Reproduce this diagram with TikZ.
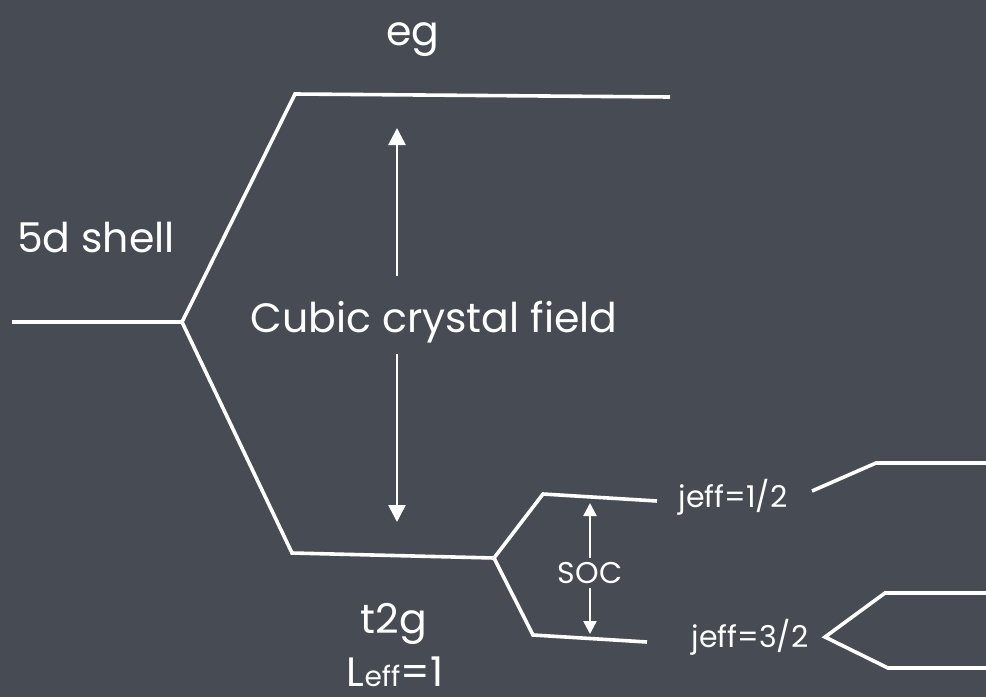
\documentclass[tikz,border=0pt]{standalone}
\usepackage{fontspec}
\setmainfont{Poppins}
\usetikzlibrary{arrows.meta,positioning,calc}

\definecolor{slate}{HTML}{474C54}

\begin{document}
\begin{tikzpicture}[
    x=1pt, y=-1pt,
    level/.style={draw=white, line width=3.6pt, line join=miter},
    arrow/.style={draw=white, line width=2.6pt, -{Triangle[length=17pt,width=17pt]}},
    smallarrow/.style={draw=white, line width=2.4pt, -{Triangle[length=13pt,width=13pt]}},
    label/.style={text=white, font=\fontsize{41}{44}\selectfont, inner sep=0pt},
    small/.style={text=white, font=\fontsize{30}{34}\selectfont, inner sep=0pt}
]

% Background
\fill[slate] (0,0) rectangle (986,697);
\useasboundingbox (0,0) rectangle (986,697);

% Level points
\coordinate (dleft) at (12,322);
\coordinate (dsplit) at (182,322);
\coordinate (egleft) at (295,94);
\coordinate (egright) at (670,97);
\coordinate (tleft) at (292,553);
\coordinate (tsplit) at (494,558);
\coordinate (jhalfleft) at (543,494);
\coordinate (jhalfright) at (657,501);
\coordinate (jthreeleft) at (533,635);
\coordinate (jthreeright) at (647,642);

% Levels
\draw[level] (dleft) -- (dsplit) -- (egleft) -- (egright);
\draw[level] (dsplit) -- (tleft) -- (tsplit);
\draw[level] (tsplit) -- (jhalfleft) -- (jhalfright);
\draw[level] (tsplit) -- (jthreeleft) -- (jthreeright);

% Right side
\coordinate (rhalfstart) at (812,491);
\coordinate (rhalfcorner) at (876,463);
\coordinate (rhalfend) at (986,463);
\coordinate (rthreeapex) at (825,637);
\coordinate (rthreeup) at (885,593);
\coordinate (rthreeupend) at (986,593);
\coordinate (rthreelow) at (888,668);
\coordinate (rthreelowend) at (986,668);
\draw[level] (rhalfstart) -- (rhalfcorner) -- (rhalfend);
\draw[level] (rthreeupend) -- (rthreeup) -- (rthreeapex) -- (rthreelow) -- (rthreelowend);

% Labels
\node[label] (eg) at (413,40) {eg};
\node[label] (shell) at (96,238) {5d shell};
\node[label] (ccf) at (434,322) {Cubic crystal field};
\node[label] (t2g) at (394,624) {t2g};
\node[label] (leff) at (395,672) {L{\fontsize{28}{30}\selectfont eff}=1};
\node[small] (jhalf) at (733,497) {jeff=1/2};
\node[small] (jthree) at (750,637) {jeff=3/2};
\node[small] (soc) at (590,573) {SOC};

% Crystal field arrows
\coordinate (cfa) at (397,276);
\coordinate (cfb) at (397,354);
\coordinate (cftop) at (397,128);
\coordinate (cfbottom) at (397,522);
\draw[arrow] (cfa) -- (cftop);
\draw[arrow] (cfb) -- (cfbottom);

% SOC arrows
\coordinate (soctop) at (590,503);
\coordinate (socbottom) at (590,634);
\draw[smallarrow] (soc.north) ++(0,-4) coordinate (socn) -- (soctop);
\draw[smallarrow] (soc.south) ++(0,4) coordinate (socs) -- (socbottom);

\end{tikzpicture}
\end{document}
